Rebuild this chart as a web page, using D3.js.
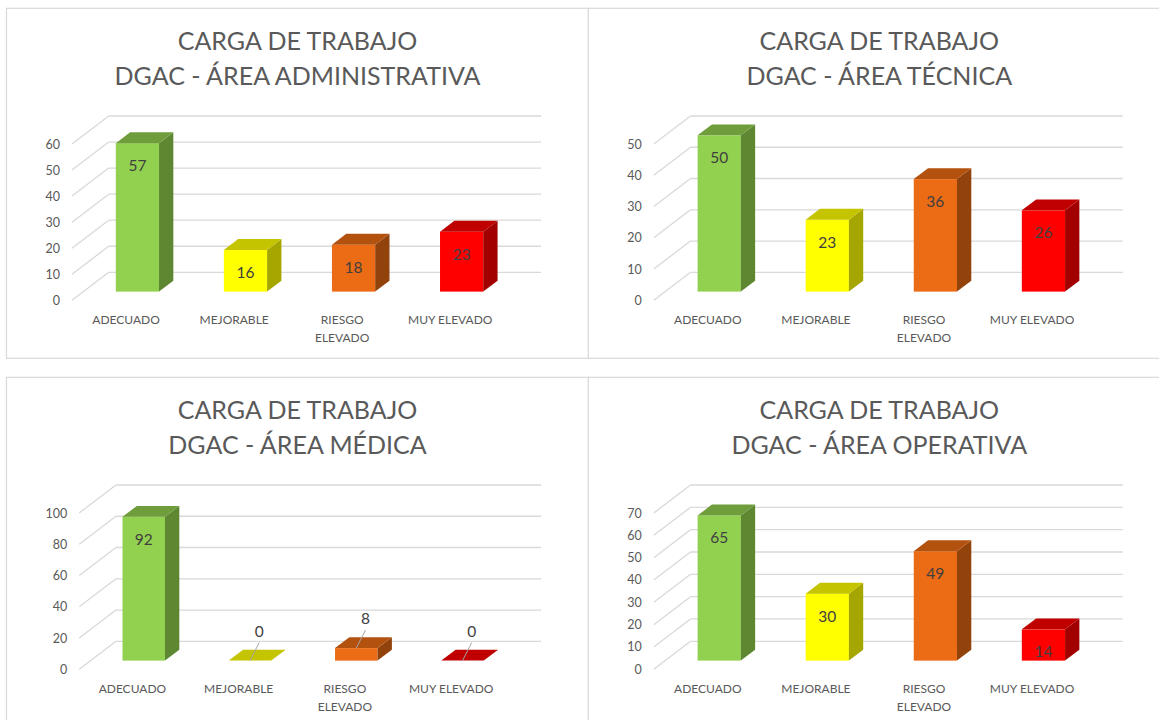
<!DOCTYPE html>
<html><head><meta charset="utf-8">
<script src="https://cdn.jsdelivr.net/npm/d3@7"></script>
<style>
body{margin:0;background:#fff;}
svg{display:block;font-family:Lato,"Open Sans",sans-serif;}
</style>
</head><body>
<svg id="c" width="1159" height="720"></svg>
<script>
// ---- data ----
const categories = ["ADECUADO", "MEJORABLE", "RIESGO ELEVADO", "MUY ELEVADO"];
const categoryLines = [["ADECUADO"], ["MEJORABLE"], ["RIESGO", "ELEVADO"], ["MUY ELEVADO"]];
const titleLine1 = "CARGA DE TRABAJO";
const panelTitles = ["DGAC - ÁREA ADMINISTRATIVA", "DGAC - ÁREA TÉCNICA", "DGAC - ÁREA MÉDICA", "DGAC - ÁREA OPERATIVA"];
const administrativaValues = [57, 16, 18, 23];
const tecnicaValues = [50, 23, 36, 26];
const medicaValues = [92, 0, 8, 0];
const operativaValues = [65, 30, 49, 14];
const axisMax = [60, 50, 100, 70];
const axisStep = [10, 10, 20, 10];
const frontColors = ["#92D050", "#FFFF00", "#EC6B15", "#FF0000"];
const sideColors = ["#5E8732", "#A6A600", "#92420B", "#A20000"];
const topColors = ["#6F9D3B", "#C4C400", "#B3510F", "#C00000"];

const panelValues = [administrativaValues, tecnicaValues, medicaValues, operativaValues];

// ---- layout ----
const svg = d3.select("#c");
const panelPos = [[6.5, 8.3], [588.3, 8.3], [6.5, 377.3], [588.3, 377.3]];
const PW = 582, PH = 350;
const DX = 36.7, DY = 28;       // full depth offset
const Z0 = 0.31, Z1 = 0.70;     // bar depth span
const gridColor = "#D9D9D9";
const textColor = "#595959";

panelPos.forEach(([px, py], i) => {
  const g = svg.append("g");
  const values = panelValues[i];
  g.append("rect").attr("x", px).attr("y", py).attr("width", PW).attr("height", PH)
    .attr("fill", "#fff").attr("stroke", gridColor).attr("stroke-width", 1.2);

  // title
  const t = g.append("text").attr("text-anchor", "middle").attr("fill", textColor)
    .attr("font-size", 25);
  t.append("tspan").attr("x", px + PW / 2).attr("y", py + 32).attr("dominant-baseline", "central").text(titleLine1);
  t.append("tspan").attr("x", px + PW / 2).attr("y", py + 67).attr("dominant-baseline", "central").text(panelTitles[i]);

  const ticks = d3.range(0, axisMax[i] + 0.001, axisStep[i]);
  // measure widest tick label
  const labelLeft = px + 39;
  const tmp = g.append("g").attr("font-size", 12.5);
  let maxW = 0;
  ticks.forEach(v => {
    const tt = tmp.append("text").text(v);
    maxW = Math.max(maxW, tt.node().getComputedTextLength());
  });
  tmp.remove();
  const frontLeft = labelLeft + maxW + 12;
  const backLeft = frontLeft + DX;
  const backRight = px + 534.5;
  const frontRight = backRight - DX;

  const yBack = d3.scaleLinear().domain([0, axisMax[i]]).range([py + 264, py + 107.7]);
  const yFront = v => yBack(v) + DY;
  const x = d3.scaleBand().domain(categories).range([frontLeft, frontRight])
    .paddingInner(0.6).paddingOuter(0.3);

  // gridlines: back wall + left wall
  const grid = g.append("g").attr("stroke", gridColor).attr("stroke-width", 1.3).attr("fill", "none");
  ticks.forEach(v => {
    grid.append("line").attr("x1", backLeft).attr("x2", backRight)
      .attr("y1", yBack(v)).attr("y2", yBack(v));
    grid.append("line").attr("x1", frontLeft).attr("x2", backLeft)
      .attr("y1", yFront(v)).attr("y2", yBack(v));
  });

  // tick labels
  g.append("g").attr("font-size", 12.5).attr("fill", textColor).attr("text-anchor", "end")
    .selectAll("text").data(ticks).join("text")
    .attr("x", frontLeft - 12).attr("y", v => yFront(v))
    .attr("dominant-baseline", "central").text(v => v);

  // category labels
  categories.forEach((c, j) => {
    const cx = x(c) + x.bandwidth() / 2;
    const ct = g.append("text").attr("font-size", 12).attr("fill", textColor).attr("text-anchor", "middle");
    categoryLines[j].forEach((ln, k) => {
      ct.append("tspan").attr("x", cx).attr("y", yFront(0) + 19 + k * 18)
        .attr("dominant-baseline", "central").text(ln);
    });
  });

  // bars
  const w = x.bandwidth();
  const ddx = (Z1 - Z0) * DX, ddy = (Z1 - Z0) * DY;
  categories.forEach((c, j) => {
    const v = values[j];
    const x0 = x(c) + Z0 * DX;
    const yTop = yFront(v) - Z0 * DY;
    const yBot = yFront(0) - Z0 * DY;
    const bg = g.append("g");
    if (yBot - yTop > 0.5) {
      bg.append("rect").attr("x", x0).attr("y", yTop).attr("width", w).attr("height", yBot - yTop)
        .attr("fill", frontColors[j]);
      bg.append("polygon").attr("points", [
        [x0 + w, yTop], [x0 + w + ddx, yTop - ddy], [x0 + w + ddx, yBot - ddy], [x0 + w, yBot]
      ].map(p => p.join(",")).join(" ")).attr("fill", sideColors[j]);
    }
    bg.append("polygon").attr("points", [
      [x0, yTop], [x0 + w, yTop], [x0 + w + ddx, yTop - ddy], [x0 + ddx, yTop - ddy]
    ].map(p => p.join(",")).join(" ")).attr("fill", topColors[j]);

    // value label
    const h = yBot - yTop;
    if (h >= 20) {
      g.append("text").attr("x", x0 + w / 2).attr("y", yTop + 22)
        .attr("text-anchor", "middle").attr("dominant-baseline", "central")
        .attr("font-size", 15.5).attr("fill", "#404040").text(v);
    } else {
      const lx = x0 + w / 2 + ddx / 2 + 2;
      const ly = yTop - 30;
      g.append("line").attr("x1", lx).attr("y1", ly + 12).attr("x2", x0 + w / 2).attr("y2", yTop)
        .attr("stroke", "#A6A6A6").attr("stroke-width", 1);
      g.append("text").attr("x", lx).attr("y", ly)
        .attr("text-anchor", "middle").attr("dominant-baseline", "central")
        .attr("font-size", 15.5).attr("fill", "#404040").text(v);
    }
  });
});
</script>
</body></html>
